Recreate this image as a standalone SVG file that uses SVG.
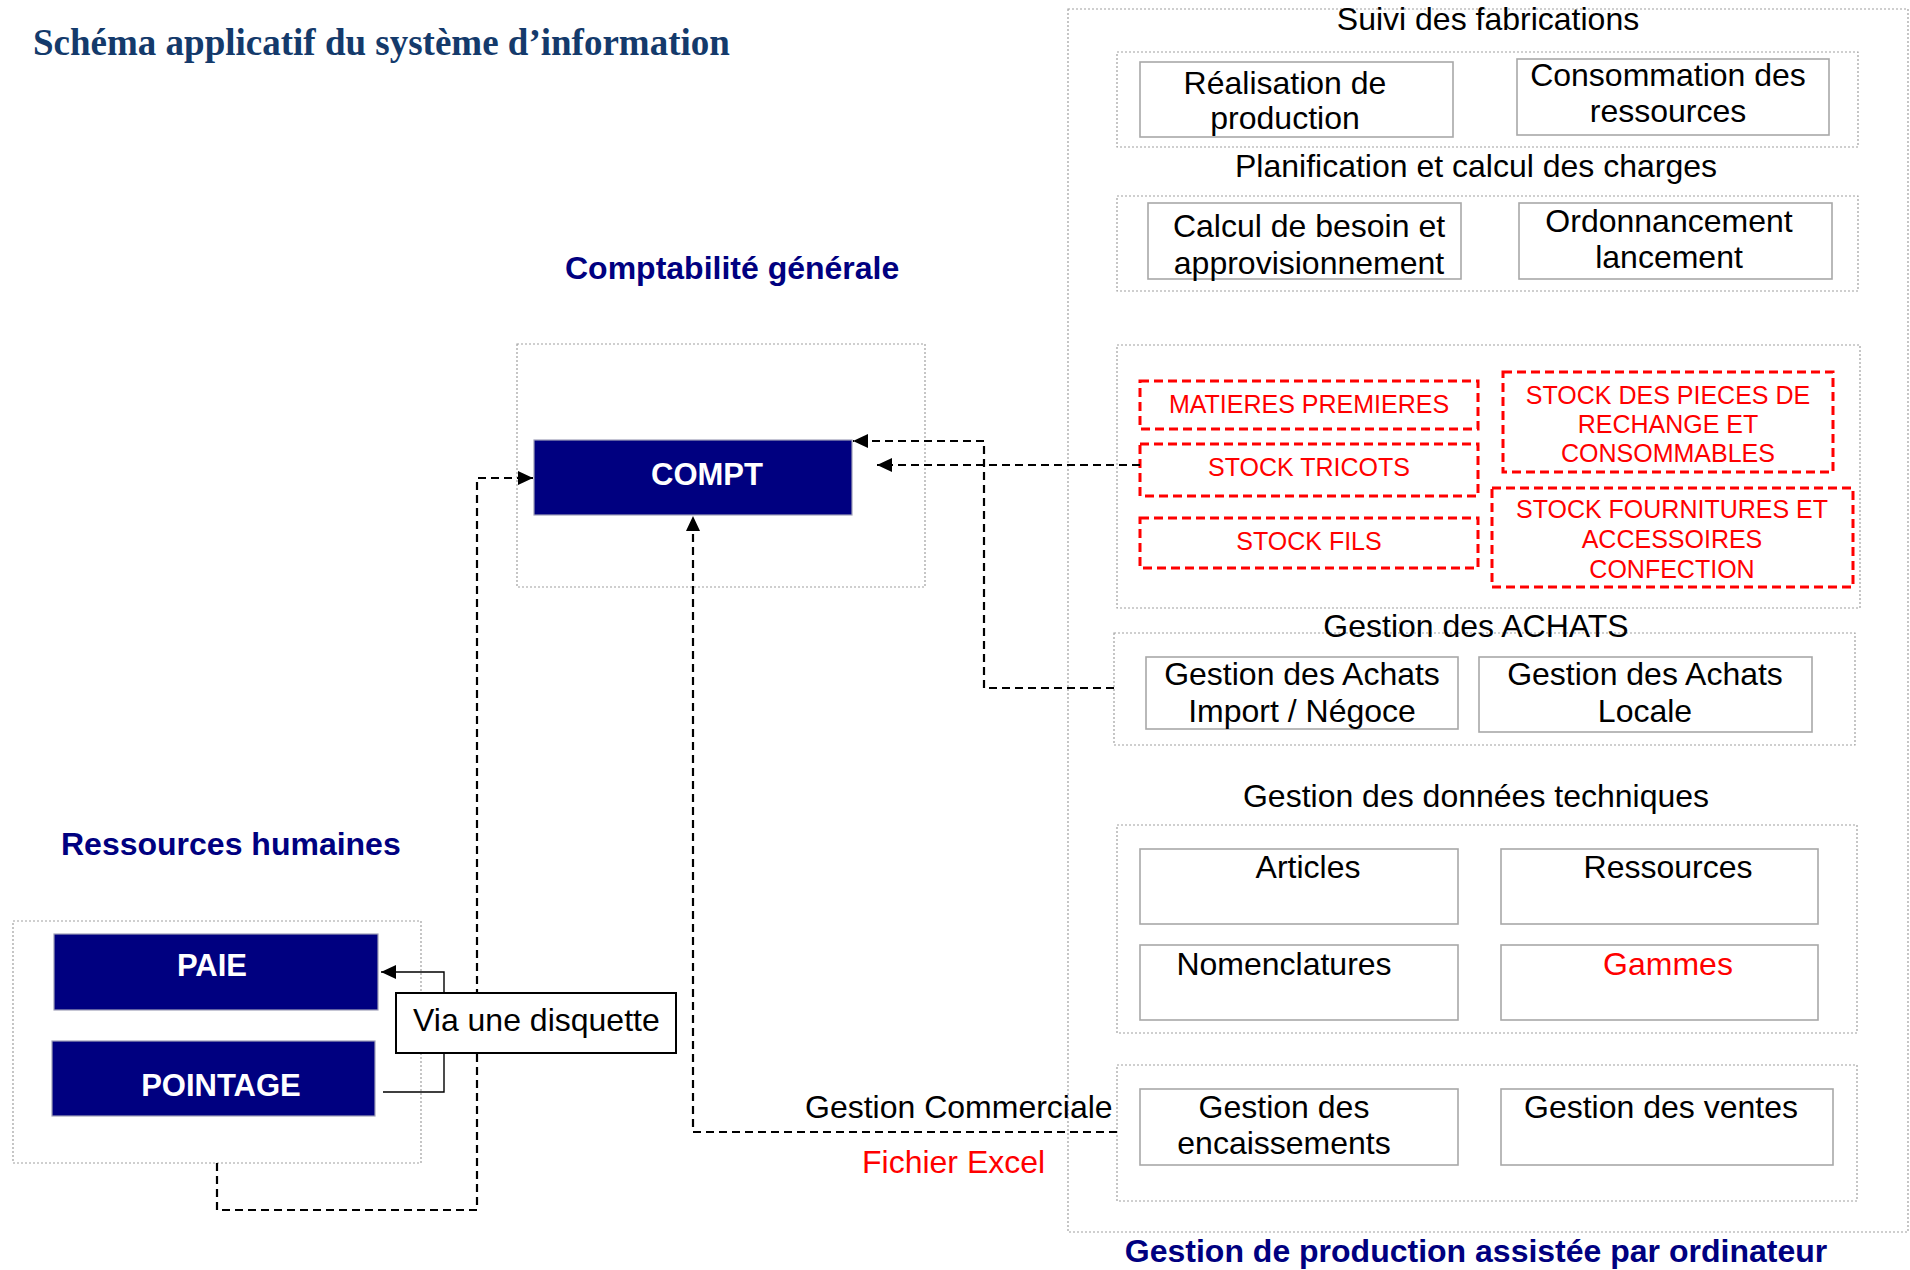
<svg xmlns="http://www.w3.org/2000/svg" width="1910" height="1270" viewBox="0 0 1910 1270">
  <style>
    text { font-family: "Liberation Sans", Arial, sans-serif; }
    .t { font-size: 32px; fill: #000; }
    .mid { text-anchor: middle; }
    .head { font-size: 32px; font-weight: bold; fill: #000080; }
    .title { font-family: "Liberation Serif", "Times New Roman", serif; font-size: 37px; font-weight: bold; fill: #143A6B; }
    .red { fill: #ff0000; }
    .caps { font-size: 25px; fill: #ff0000; }
    .dot { fill: none; stroke: #a0a0a0; stroke-width: 1.2; stroke-dasharray: 2 2; }
    .box { fill: #fff; stroke: #a8a8a8; stroke-width: 1.6; }
    .navy { fill: #000080; stroke: #a0a0b8; stroke-width: 1.2; }
    .white { font-size: 31px; font-weight: bold; fill: #fff; }
    .stock { fill: none; stroke: #ff0000; stroke-width: 3; stroke-dasharray: 9 5; }
    .flow { fill: none; stroke: #000; stroke-width: 2.2; stroke-dasharray: 8 5; }
    .wire { fill: none; stroke: #000; stroke-width: 1.4; }
  </style>
  <defs>
    <marker id="arrow" markerUnits="userSpaceOnUse" markerWidth="16" markerHeight="15" refX="15" refY="7" orient="auto">
      <path d="M0,0 L15,7 L0,14 z" fill="#000"/>
    </marker>
  </defs>

  <rect width="1910" height="1270" fill="#fff"/>

  <text class="title" x="33" y="55">Schéma applicatif du système d’information</text>

  <!-- Comptabilité générale -->
  <g id="compta">
    <text class="head" x="565" y="279">Comptabilité générale</text>
    <rect class="dot" x="517" y="344" width="408" height="243"/>
    <g id="compt">
      <rect class="navy" x="534" y="440" width="318" height="75"/>
      <text class="white mid" x="707" y="485">COMPT</text>
    </g>
  </g>

  <!-- Ressources humaines -->
  <g id="rh">
    <text class="head" x="61" y="855">Ressources humaines</text>
    <rect class="dot" x="13" y="921" width="408" height="242"/>
    <g id="paie">
      <rect class="navy" x="54" y="934" width="324" height="76"/>
      <text class="white mid" x="212" y="976">PAIE</text>
    </g>
    <g id="pointage">
      <rect class="navy" x="52" y="1041" width="323" height="75"/>
      <text class="white mid" x="221" y="1096">POINTAGE</text>
    </g>
  </g>

  <!-- GPAO -->
  <g id="gpao">
    <rect class="dot" x="1068" y="9" width="840" height="1223"/>
    <text class="head mid" x="1476" y="1262">Gestion de production assistée par ordinateur</text>

    <g id="suivi">
      <text class="t mid" x="1488" y="30">Suivi des fabrications</text>
      <rect class="dot" x="1117" y="52" width="741" height="95"/>
      <g id="realisation">
        <rect class="box" x="1140" y="62" width="313" height="75"/>
        <text class="t mid" x="1285" y="94">Réalisation de</text>
        <text class="t mid" x="1285" y="129">production</text>
      </g>
      <g id="consommation">
        <rect class="box" x="1517" y="59" width="312" height="76"/>
        <text class="t mid" x="1668" y="86">Consommation des</text>
        <text class="t mid" x="1668" y="122">ressources</text>
      </g>
    </g>

    <g id="planif">
      <text class="t mid" x="1476" y="177">Planification et calcul des charges</text>
      <rect class="dot" x="1117" y="196" width="741" height="95"/>
      <g id="calcul">
        <rect class="box" x="1148" y="203" width="313" height="76"/>
        <text class="t mid" x="1309" y="237">Calcul de besoin et</text>
        <text class="t mid" x="1309" y="274">approvisionnement</text>
      </g>
      <g id="ordo">
        <rect class="box" x="1519" y="203" width="313" height="76"/>
        <text class="t mid" x="1669" y="232">Ordonnancement</text>
        <text class="t mid" x="1669" y="268">lancement</text>
      </g>
    </g>

    <g id="stocks">
      <rect class="dot" x="1117" y="345" width="743" height="263"/>
      <g id="mp">
        <rect class="stock" x="1140" y="381" width="338" height="48"/>
        <text class="caps mid" x="1309" y="413">MATIERES PREMIERES</text>
      </g>
      <g id="tricots">
        <rect class="stock" x="1140" y="444" width="338" height="52"/>
        <text class="caps mid" x="1309" y="476">STOCK TRICOTS</text>
      </g>
      <g id="fils">
        <rect class="stock" x="1140" y="518" width="338" height="50"/>
        <text class="caps mid" x="1309" y="550">STOCK FILS</text>
      </g>
      <g id="pieces">
        <rect class="stock" x="1503" y="372" width="330" height="100"/>
        <text class="caps mid" x="1668" y="404">STOCK DES PIECES DE</text>
        <text class="caps mid" x="1668" y="433">RECHANGE ET</text>
        <text class="caps mid" x="1668" y="462">CONSOMMABLES</text>
      </g>
      <g id="fournitures">
        <rect class="stock" x="1492" y="488" width="361" height="99"/>
        <text class="caps mid" x="1672" y="518">STOCK FOURNITURES ET</text>
        <text class="caps mid" x="1672" y="548">ACCESSOIRES</text>
        <text class="caps mid" x="1672" y="578">CONFECTION</text>
      </g>
    </g>

    <g id="achats">
      <rect class="dot" x="1114" y="633" width="741" height="112"/>
      <text class="t mid" x="1476" y="637">Gestion des ACHATS</text>
      <g id="achats-import">
        <rect class="box" x="1146" y="657" width="312" height="72"/>
        <text class="t mid" x="1302" y="685">Gestion des Achats</text>
        <text class="t mid" x="1302" y="722">Import / Négoce</text>
      </g>
      <g id="achats-locale">
        <rect class="box" x="1479" y="657" width="333" height="75"/>
        <text class="t mid" x="1645" y="685">Gestion des Achats</text>
        <text class="t mid" x="1645" y="722">Locale</text>
      </g>
    </g>

    <g id="technique">
      <text class="t mid" x="1476" y="807">Gestion des données techniques</text>
      <rect class="dot" x="1117" y="825" width="740" height="208"/>
      <g id="articles">
        <rect class="box" x="1140" y="849" width="318" height="75"/>
        <text class="t mid" x="1308" y="878">Articles</text>
      </g>
      <g id="ressources">
        <rect class="box" x="1501" y="849" width="317" height="75"/>
        <text class="t mid" x="1668" y="878">Ressources</text>
      </g>
      <g id="nomenclatures">
        <rect class="box" x="1140" y="945" width="318" height="75"/>
        <text class="t mid" x="1284" y="975">Nomenclatures</text>
      </g>
      <g id="gammes">
        <rect class="box" x="1501" y="945" width="317" height="75"/>
        <text class="t mid red" x="1668" y="975">Gammes</text>
      </g>
    </g>

    <g id="commerciale">
      <rect class="dot" x="1117" y="1065" width="740" height="136"/>
      <g id="encaissements">
        <rect class="box" x="1140" y="1089" width="318" height="76"/>
        <text class="t mid" x="1284" y="1118">Gestion des</text>
        <text class="t mid" x="1284" y="1154">encaissements</text>
      </g>
      <g id="ventes">
        <rect class="box" x="1501" y="1089" width="332" height="76"/>
        <text class="t mid" x="1661" y="1118">Gestion des ventes</text>
      </g>
    </g>
  </g>

  <!-- Flows -->
  <g id="connectors">
    <path class="flow" d="M217,1163 V1210 H477 V478 H533" marker-end="url(#arrow)"/>
    <path class="flow" d="M1114,688 H984 V441 H853" marker-end="url(#arrow)"/>
    <path class="flow" d="M1140,465 H877" marker-end="url(#arrow)"/>
    <path class="flow" d="M1117,1132 H693 V516" marker-end="url(#arrow)"/>
    <path class="wire" d="M444,993 V972 H381" marker-end="url(#arrow)"/>
    <path class="wire" d="M383,1092 H444 V1053"/>
    <text class="t" x="805" y="1118">Gestion Commerciale</text>
    <text class="t red" x="862" y="1173">Fichier Excel</text>
  </g>

  <g id="disquette">
    <rect x="396" y="993" width="280" height="60" fill="#fff" stroke="#000" stroke-width="2"/>
    <text class="t" x="413" y="1031">Via une disquette</text>
  </g>
</svg>
